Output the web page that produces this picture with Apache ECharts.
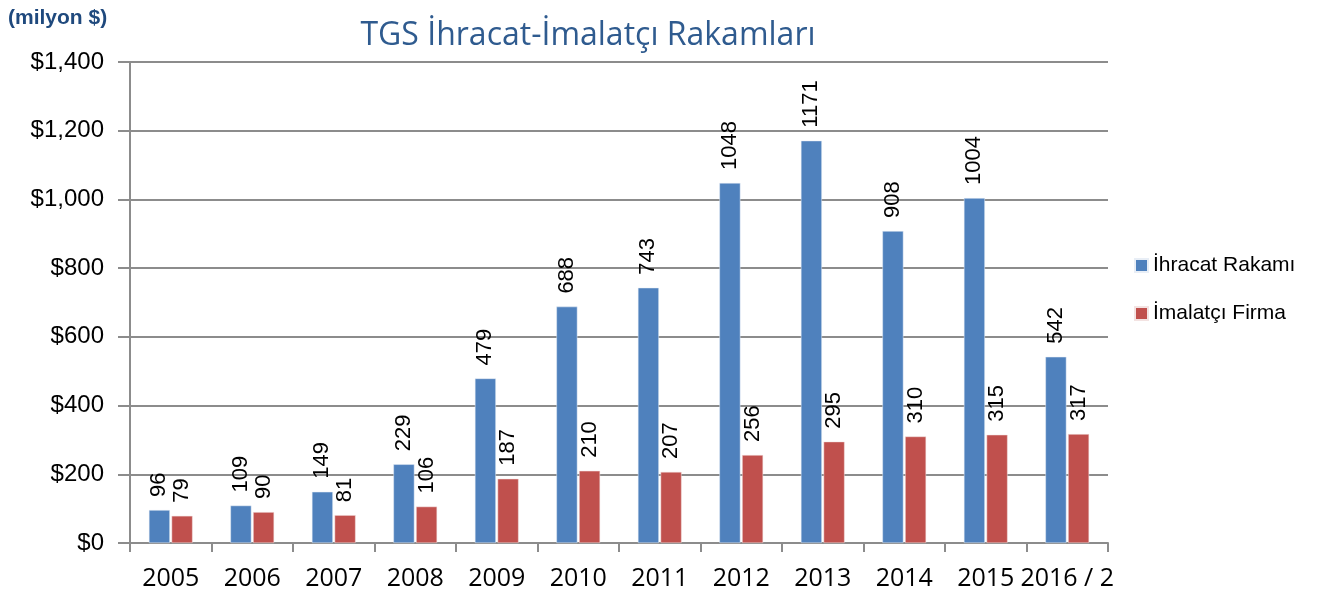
<!DOCTYPE html>
<html>
<head>
<meta charset="utf-8">
<script src="https://cdn.jsdelivr.net/npm/echarts@6/dist/echarts.min.js"></script>
<style>
  html, body { margin: 0; padding: 0; background: #fff; }
  #chart { width: 1324px; height: 602px; }
</style>
</head>
<body>
<div id="chart"></div>
<script>
// yıllar ve değerler (milyon $)
const years = ['2005', '2006', '2007', '2008', '2009', '2010', '2011', '2012', '2013', '2014', '2015', '2016 / 2'];
const ihracat = [96, 109, 149, 229, 479, 688, 743, 1048, 1171, 908, 1004, 542];
const imalatci = [79, 90, 81, 106, 187, 210, 207, 256, 295, 310, 315, 317];

const chart = echarts.init(document.getElementById('chart'));

const barLabel = {
  show: true,
  position: 'top',
  rotate: 90,
  align: 'left',
  verticalAlign: 'middle',
  distance: 13,
  color: '#000',
  fontFamily: 'Liberation Sans',
  fontSize: 22
};

chart.setOption({
  backgroundColor: '#fff',
  animation: false,
  title: [
    {
      text: 'TGS İhracat-İmalatçı Rakamları',
      left: 583,
      top: 15,
      textAlign: 'center',
      textStyle: { color: '#2f5b8f', fontFamily: 'Open Sans', fontWeight: 'normal', fontSize: 32 }
    },
    {
      text: '(milyon $)',
      left: 3,
      top: 3,
      textStyle: { color: '#1f497d', fontFamily: 'Liberation Sans', fontWeight: 'bold', fontSize: 21 }
    }
  ],
  legend: {
    orient: 'vertical',
    left: 1129,
    top: 250,
    itemWidth: 13,
    itemHeight: 13,
    itemGap: 27,
    icon: 'rect',
    textStyle: { color: '#000', fontFamily: 'Liberation Sans', fontSize: 21 },
    data: ['İhracat Rakamı', 'İmalatçı Firma']
  },
  grid: { left: 130, right: 216, top: 62, bottom: 59 },
  xAxis: {
    type: 'category',
    data: years,
    axisLine: { lineStyle: { color: '#8c8c8c', width: 2 } },
    axisTick: { show: true, length: 9, lineStyle: { color: '#8c8c8c', width: 2 } },
    axisLabel: { interval: 0, color: '#000', fontFamily: 'Open Sans', fontSize: 25, margin: 23 }
  },
  yAxis: {
    type: 'value',
    min: 0,
    max: 1400,
    interval: 200,
    axisLine: { show: true, lineStyle: { color: '#8c8c8c', width: 2 } },
    axisTick: { show: true, length: 12, lineStyle: { color: '#8c8c8c', width: 2 } },
    splitLine: { lineStyle: { color: '#8c8c8c', width: 2 } },
    axisLabel: {
      color: '#000',
      fontFamily: 'Liberation Sans',
      fontSize: 24,
      margin: 26,
      formatter: v => '$' + v.toLocaleString('en-US')
    }
  },
  series: [
    {
      name: 'İhracat Rakamı',
      type: 'bar',
      data: ihracat,
      barWidth: 21,
      barGap: '8%',
      itemStyle: { color: '#4f81bd', borderColor: '#e8eef6', borderWidth: 0.5 },
      label: barLabel
    },
    {
      name: 'İmalatçı Firma',
      type: 'bar',
      data: imalatci,
      barWidth: 21,
      itemStyle: { color: '#c0504d', borderColor: '#f3e3e2', borderWidth: 0.5 },
      label: barLabel
    }
  ]
});
</script>
</body>
</html>
